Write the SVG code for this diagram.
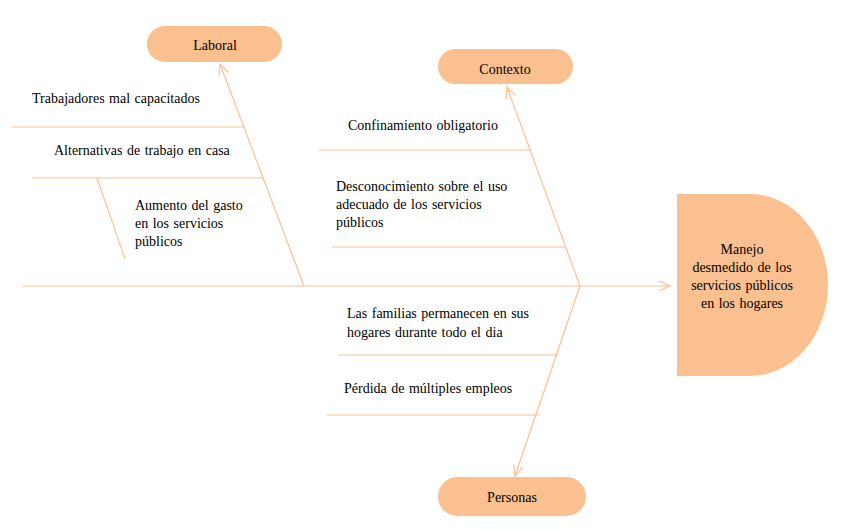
<svg xmlns="http://www.w3.org/2000/svg" width="849" height="530" viewBox="0 0 849 530">
<style>
.ln{stroke:#FAC090;stroke-width:1.2;fill:none}
.fill{fill:#FAC090;stroke:none}
text{font-family:"Liberation Serif","Times New Roman",serif;font-size:14px;fill:#000;word-spacing:1px}
.c{text-anchor:middle}
</style>
<defs>
<marker id="arr" markerWidth="14" markerHeight="14" refX="12" refY="6" orient="auto" markerUnits="userSpaceOnUse">
<path d="M1,1 L12,6 L1,11" fill="none" stroke="#FAC090" stroke-width="1.2"/>
</marker>
</defs>
<rect width="849" height="530" fill="#fff"/>
<g id="connectors">
<line class="ln" x1="23" y1="286" x2="670" y2="286" marker-end="url(#arr)"/>
<line class="ln" x1="304" y1="286" x2="220" y2="64" marker-end="url(#arr)"/>
<line class="ln" x1="580" y1="286" x2="507" y2="87" marker-end="url(#arr)"/>
<line class="ln" x1="580" y1="286" x2="515" y2="476" marker-end="url(#arr)"/>
<line class="ln" x1="12" y1="127" x2="245" y2="127"/>
<line class="ln" x1="32" y1="178" x2="263" y2="178"/>
<line class="ln" x1="97" y1="178" x2="125" y2="259"/>
<line class="ln" x1="319" y1="150" x2="532" y2="150"/>
<line class="ln" x1="332" y1="247" x2="566" y2="247"/>
<line class="ln" x1="338" y1="355" x2="558" y2="355"/>
<line class="ln" x1="327" y1="415" x2="540" y2="415"/>
</g>
<g id="laboral">
<rect class="fill" x="147" y="26" width="135" height="36" rx="18"/>
<text class="c" x="215" y="50">Laboral</text>
</g>
<g id="contexto">
<rect class="fill" x="438" y="49" width="135" height="35" rx="17.5"/>
<text class="c" x="505" y="74">Contexto</text>
</g>
<g id="personas">
<rect class="fill" x="438" y="477" width="148" height="39" rx="19.5"/>
<text class="c" x="512" y="502">Personas</text>
</g>
<g id="efecto">
<path class="fill" d="M677,194 H750 A78,91 0 0 1 750,376 H677 Z"/>
<text class="c" x="742" y="254">Manejo</text>
<text class="c" x="742" y="272">desmedido de los</text>
<text class="c" x="742" y="290">servicios públicos</text>
<text class="c" x="742" y="308">en los hogares</text>
</g>
<g id="causa-trabajadores"><text x="32" y="103">Trabajadores mal capacitados</text></g>
<g id="causa-alternativas"><text x="54" y="155">Alternativas de trabajo en casa</text></g>
<g id="causa-aumento">
<text x="135" y="210">Aumento del gasto</text>
<text x="135" y="228">en los servicios</text>
<text x="135" y="246">públicos</text>
</g>
<g id="causa-confinamiento"><text x="348" y="130">Confinamiento obligatorio</text></g>
<g id="causa-desconocimiento">
<text x="336" y="191">Desconocimiento sobre el uso</text>
<text x="336" y="209">adecuado de los servicios</text>
<text x="336" y="227">públicos</text>
</g>
<g id="causa-familias">
<text x="347" y="318">Las familias permanecen en sus</text>
<text x="347" y="337">hogares durante todo el dia</text>
</g>
<g id="causa-perdida"><text x="344" y="393">Pérdida de múltiples empleos</text></g>
</svg>
